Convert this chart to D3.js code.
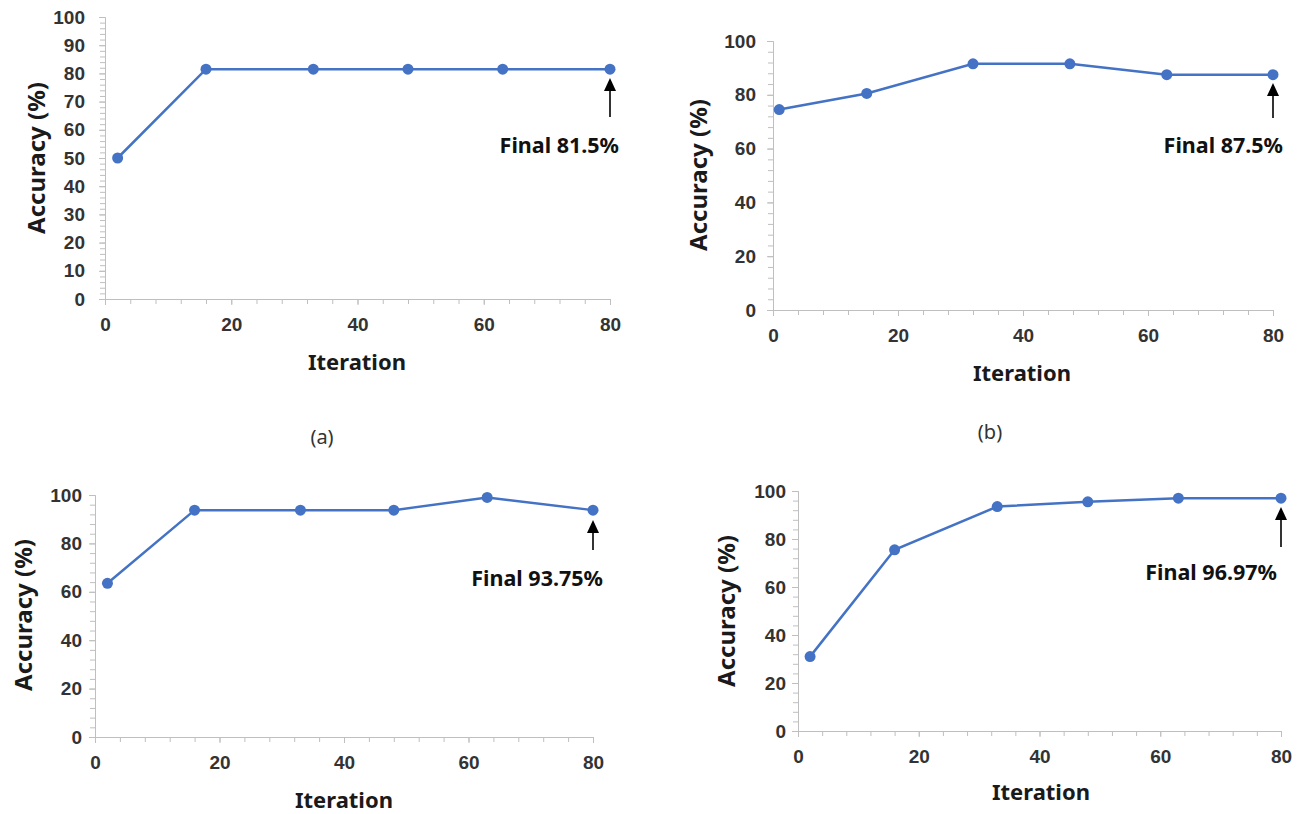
<!DOCTYPE html>
<html><head><meta charset="utf-8">
<script src="https://cdn.jsdelivr.net/npm/d3@7"></script>
<style>
body{margin:0;background:#fff;}
svg{display:block;font-family:"Noto Sans","Open Sans",sans-serif;}
</style></head>
<body><svg id="chart" width="1305" height="814"></svg>
<script>
// ---- data ----
const iterA = [2, 16, 33, 48, 63, 80];
const accA  = [50, 81.5, 81.5, 81.5, 81.5, 81.5];
const iterB = [1, 15, 32, 47.5, 63, 80];
const accB  = [74.5, 80.5, 91.5, 91.5, 87.5, 87.5];
const iterC = [2, 16, 33, 48, 63, 80];
const accC  = [63.5, 93.75, 93.75, 93.75, 99, 93.75];
const iterD = [2, 16, 33, 48, 63, 80];
const accD  = [31, 75.5, 93.5, 95.5, 97, 97];
const finalLabels = ["Final 81.5%", "Final 87.5%", "Final 93.75%", "Final 96.97%"];
const xTickValues = [0, 20, 40, 60, 80];
const yTicksA = [0,10,20,30,40,50,60,70,80,90,100];
const yTicksB = [0,20,40,60,80,100];
const subLabels = ["(a)", "(b)"];
const xTitle = "Iteration";
const yTitle = "Accuracy (%)";

// ---- layout ----
const panels = [
  {x:iterA, y:accA, label:finalLabels[0], yTicks:yTicksA, yMinor:2,
   px:[105,610], py:[299,17], yPad:14, xTitleY:370, xTitleX:357, yTitleX:35, yTitleY:158,
   lblDx:9, lblY:153, arrTip:78, arrBot:117},
  {x:iterB, y:accB, label:finalLabels[1], yTicks:yTicksB, yMinor:4,
   px:[773,1273], py:[310,41], yPad:11, xTitleY:381, xTitleX:1022, yTitleX:697, yTitleY:175,
   lblDx:10, lblY:153, arrTip:83, arrBot:118},
  {x:iterC, y:accC, label:finalLabels[2], yTicks:yTicksB, yMinor:4,
   px:[95,593], py:[737,495], yPad:7, xTitleY:808, xTitleX:344, yTitleX:22, yTitleY:615,
   lblDx:10, lblY:586, arrTip:520, arrBot:550},
  {x:iterD, y:accD, label:finalLabels[3], yTicks:yTicksB, yMinor:4,
   px:[798,1281], py:[731,491], yPad:6, xTitleY:800, xTitleX:1041, yTitleX:725, yTitleY:611,
   lblDx:-4, lblY:580, arrTip:507, arrBot:547}
];

const svg = d3.select("#chart");
const blue = "#4472C4";
const axisColor = "#BFBFBF";
const tickColor = "#333333";

panels.forEach(p => {
  const x = d3.scaleLinear().domain([0,80]).range(p.px);
  const y = d3.scaleLinear().domain([0,100]).range(p.py);
  const g = svg.append("g");

  // minor ticks
  const xMinor = d3.range(0, 80.001, 4);
  const yMinor = d3.range(0, 100.001, p.yMinor);
  g.append("g").attr("transform",`translate(0,${p.py[0]})`)
    .call(d3.axisBottom(x).tickValues(xMinor).tickSize(5).tickFormat(""))
    .call(a => a.selectAll("path,line").attr("stroke",axisColor));
  g.append("g").attr("transform",`translate(${p.px[0]},0)`)
    .call(d3.axisLeft(y).tickValues(yMinor).tickSize(5).tickFormat(""))
    .call(a => a.selectAll("path,line").attr("stroke",axisColor));

  // major axes
  const xa = g.append("g").attr("transform",`translate(0,${p.py[0]})`)
    .call(d3.axisBottom(x).tickValues(xTickValues).tickSize(6).tickSizeOuter(0).tickPadding(13));
  xa.selectAll("path,line").attr("stroke",axisColor);
  xa.selectAll("text").attr("font-size","19px").attr("font-weight","700").attr("fill",tickColor);
  const ya = g.append("g").attr("transform",`translate(${p.px[0]},0)`)
    .call(d3.axisLeft(y).tickValues(p.yTicks).tickSize(6).tickSizeOuter(0).tickPadding(p.yPad));
  ya.selectAll("path,line").attr("stroke",axisColor);
  ya.selectAll("text").attr("font-size","19px").attr("font-weight","700").attr("fill",tickColor);

  // line + markers
  const pts = p.x.map((v,i)=>[v,p.y[i]]);
  g.append("path").datum(pts)
    .attr("fill","none").attr("stroke",blue).attr("stroke-width",2.5)
    .attr("d", d3.line().x(d=>x(d[0])).y(d=>y(d[1])));
  g.selectAll("circle").data(pts).join("circle")
    .attr("cx",d=>x(d[0])).attr("cy",d=>y(d[1])).attr("r",5.5).attr("fill",blue);

  // titles
  g.append("text").attr("x",p.xTitleX).attr("y",p.xTitleY)
    .attr("text-anchor","middle").attr("font-size","22px").attr("font-weight","700").attr("fill","#1a1a1a")
    .text(xTitle);
  g.append("text").attr("transform",`translate(${p.yTitleX},${p.yTitleY}) rotate(-90)`)
    .attr("text-anchor","middle").attr("dominant-baseline","central")
    .attr("font-size","24px").attr("font-weight","700").attr("fill","#1a1a1a")
    .text(yTitle);

  // annotation arrow
  const lx = x(80);
  g.append("line").attr("x1",lx).attr("x2",lx).attr("y1",p.arrBot).attr("y2",p.arrTip+10)
    .attr("stroke","#000").attr("stroke-width",1.6);
  g.append("path")
    .attr("d",`M${lx},${p.arrTip} L${lx-6},${p.arrTip+13} L${lx+6},${p.arrTip+13} Z`)
    .attr("fill","#000");
  g.append("text").attr("x",lx+p.lblDx).attr("y",p.lblY).attr("text-anchor","end")
    .attr("font-size","21.5px").attr("font-weight","700").attr("fill","#111")
    .text(p.label);
});

svg.append("text").attr("x",322).attr("y",444).attr("text-anchor","middle")
  .attr("font-size","20px").attr("fill","#333").text(subLabels[0]);
svg.append("text").attr("x",990).attr("y",439).attr("text-anchor","middle")
  .attr("font-size","20px").attr("fill","#333").text(subLabels[1]);
</script></body></html>
